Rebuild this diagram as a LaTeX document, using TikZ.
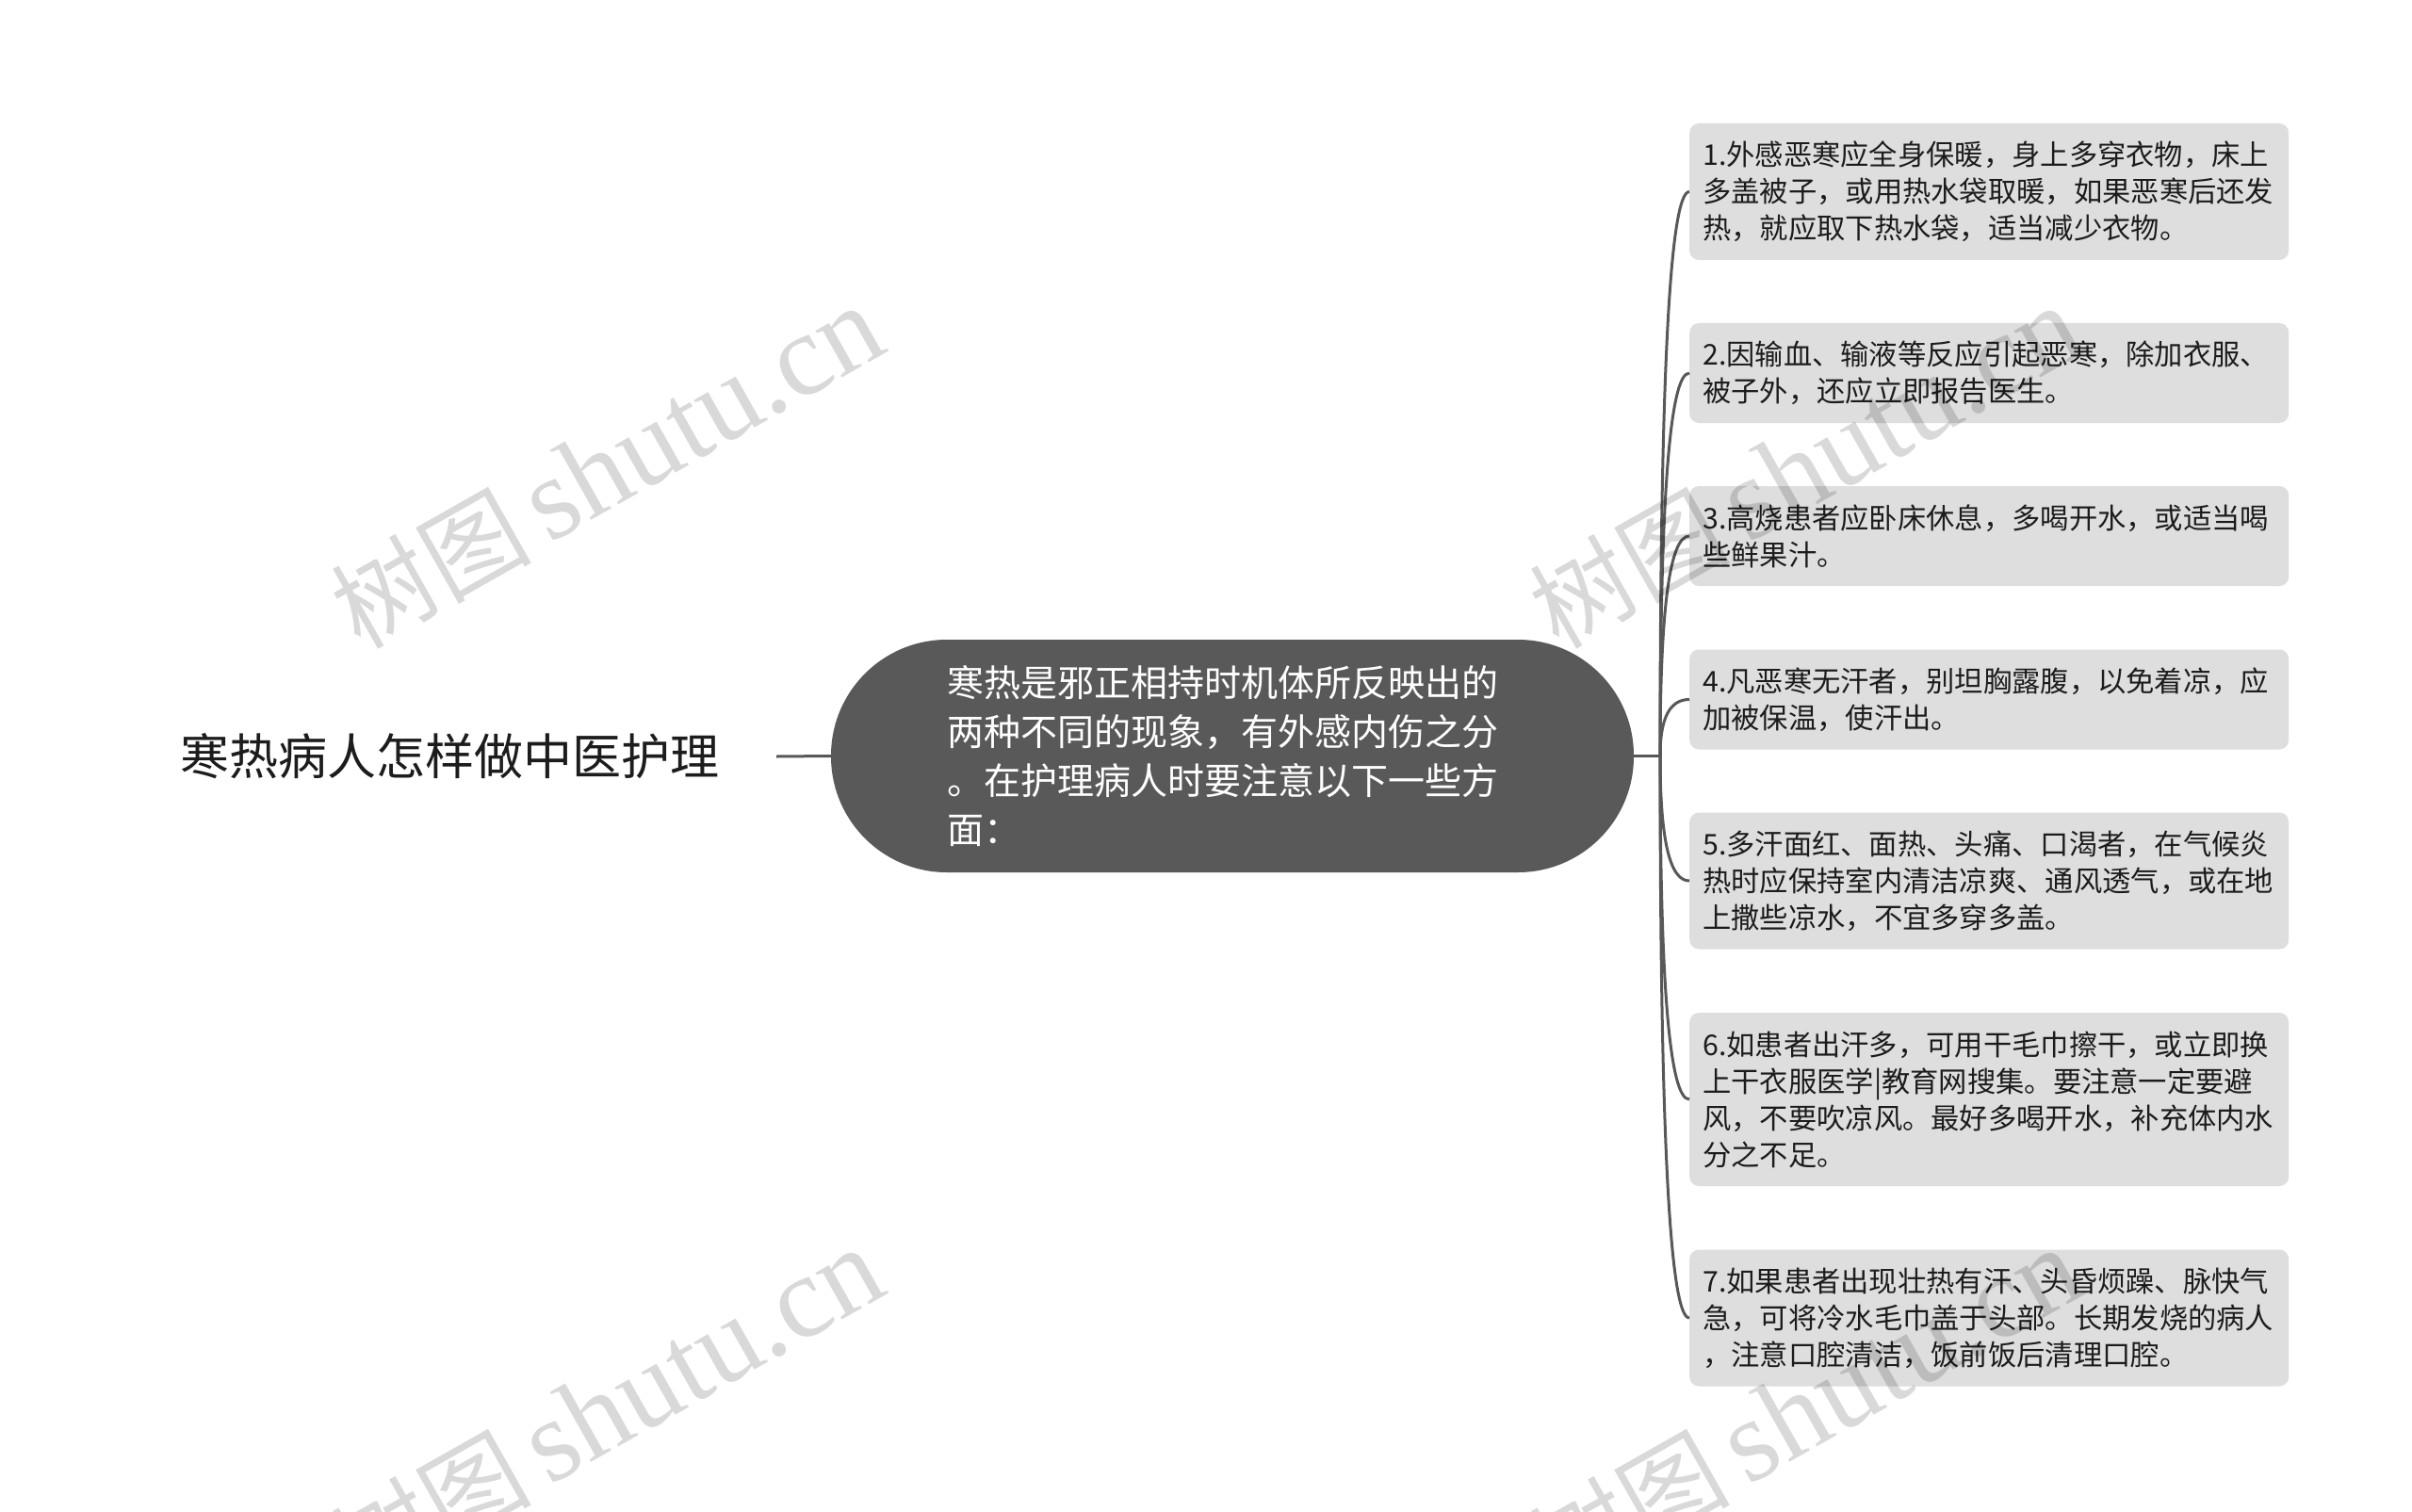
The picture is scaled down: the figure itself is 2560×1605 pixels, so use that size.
\documentclass[tikz,border=0pt]{standalone}
\usepackage{fontspec}
\setmainfont{Noto Sans CJK SC}
\newfontfamily\wmlatin{Liberation Serif}
\usetikzlibrary{calc}
\definecolor{linec}{RGB}{88,88,88}
\definecolor{mainfill}{RGB}{89,89,89}
\definecolor{boxfill}{RGB}{222,222,222}
\definecolor{txt}{RGB}{28,28,28}
\tikzset{
  link/.style={draw=linec, line width=3pt},
  rootnode/.style={font=\fontsize{52}{60}\selectfont, text=txt, inner xsep=61pt, inner ysep=10pt},
  mainnode/.style={fill=mainfill, rounded corners=123pt, minimum width=852pt, minimum height=247pt,
    text width=606pt, align=left, text=white, font=\fontsize{39}{52}\selectfont, inner sep=0pt},
  leaf/.style={fill=boxfill, rounded corners=10pt, minimum width=636pt, text width=608pt,
    inner xsep=14pt, inner ysep=0pt, align=left, font=\fontsize{30.3}{39}\selectfont, text=txt, anchor=west},
  wm/.style={rotate=29.5, anchor=base east, text=black, text opacity=0.15, inner sep=0pt}
}
\begin{document}
\begin{tikzpicture}[x=1pt,y=-1pt]
\useasboundingbox[fill=white] (0,0) rectangle (2560,1605);

\node[rootnode] (root) at (477,803) {寒热病人怎样做中医护理};
\node[mainnode] (main) at (1308,802.5) {寒热是邪正相持时机体所反映出的\\两种不同的现象，有外感内伤之分\\。在护理病人时要注意以下一些方\\面：};

\node[leaf, minimum height=145pt] (c1) at (1793,203.5) {1.外感恶寒应全身保暖，身上多穿衣物，床上\\多盖被子，或用热水袋取暖，如果恶寒后还发\\热，就应取下热水袋，适当减少衣物。};
\node[leaf, minimum height=106pt] (c2) at (1793,396) {2.因输血、输液等反应引起恶寒，除加衣服、\\被子外，还应立即报告医生。};
\node[leaf, minimum height=106pt] (c3) at (1793,569) {3.高烧患者应卧床休息，多喝开水，或适当喝\\些鲜果汁。};
\node[leaf, minimum height=106pt] (c4) at (1793,742.5) {4.凡恶寒无汗者，别坦胸露腹，以免着凉，应\\加被保温，使汗出。};
\node[leaf, minimum height=145pt] (c5) at (1793,935) {5.多汗面红、面热、头痛、口渴者，在气候炎\\热时应保持室内清洁凉爽、通风透气，或在地\\上撒些凉水，不宜多穿多盖。};
\node[leaf, minimum height=184pt] (c6) at (1793,1167) {6.如患者出汗多，可用干毛巾擦干，或立即换\\上干衣服医学|教育网搜集。要注意一定要避\\风，不要吹凉风。最好多喝开水，补充体内水\\分之不足。};
\node[leaf, minimum height=145pt] (c7) at (1793,1399) {7.如果患者出现壮热有汗、头昏烦躁、脉快气\\急，可将冷水毛巾盖于头部。长期发烧的病人\\，注意口腔清洁，饭前饭后清理口腔。};

\coordinate (hub) at (1762,802.5);
\draw[link] (root.east) -- (main.west);
\draw[link] (main.east) -- (hub);
\foreach \n/\cy in {1/203.5,2/396,3/569,4/742.5,5/935,6/1167,7/1399}{
  \draw[link] (hub) .. controls (1762,{802.5+2/3*(\cy-802.5)}) and (1772,\cy) .. (c\n.west);
}

\foreach \i/\dx/\dy in {1/0/0,2/1272/0,3/0/1000,4/1272/1000}{
  \node[wm] (wm\i) at ({946+\dx},{372+\dy}) {\fontsize{106}{120}\selectfont 树图\hspace{18pt}{\wmlatin\fontsize{124}{130}\selectfont shutu.cn}};
}
\end{tikzpicture}
\end{document}
